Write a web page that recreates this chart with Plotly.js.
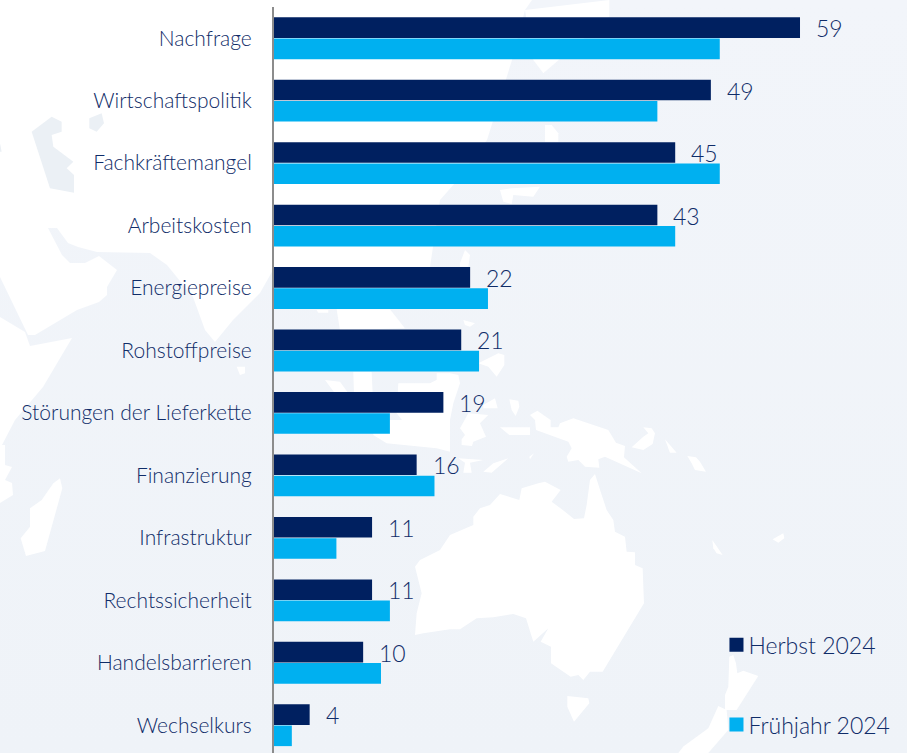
<!DOCTYPE html>
<html><head><meta charset="utf-8">
<script src="https://cdn.plot.ly/plotly-3.0.1.min.js"></script>
<style>
html,body{margin:0;padding:0;background:#fff;overflow:hidden}
#bg{position:absolute;left:0;top:0}
#chart{position:absolute;left:0;top:0;width:907px;height:753px}
</style></head><body>
<svg id="bg" width="907" height="753" xmlns="http://www.w3.org/2000/svg">
<defs><linearGradient id="o" x1="0" y1="0" x2="0" y2="1"><stop offset="0" stop-color="#f2f5fa"/><stop offset="1" stop-color="#eff3f8"/></linearGradient></defs>
<rect width="907" height="753" fill="#fff"/>
<polygon fill="url(#o)" points="48,228 57,228 68,243 78,247 97,252 150,253 167,265 193,297 205,330 215,342 233,320 260,293 273,270 430,267 440,200 455,183 487,140 512,60 525,10 532,0 907,0 907,753 0,753 0,503 13,495 12,483 5,480 12,467 5,465 5,445 2,445 15,420 43,387 72,338 30,346 25,332 0,317 0,277 28,335 35,335 77,310 99,302 107,295 107,287 117,270 99,256 85,263 70,263 62,255"/>
<g fill="#ebf0f5" transform="translate(0,100) scale(.3333)">
<polygon points="268,55 305,40 312,70 290,95 268,85"/>
<polygon points="95,95 155,50 185,65 185,95 155,105 160,140 220,185 200,205 222,225 222,278 150,265"/>
<polygon points="0,130 5,155 0,155"/>
</g>
<g fill="#fff" transform="translate(0,100) scale(.3333)">
<polygon points="710,800 735,800 735,820 720,825"/>
<polygon points="950,630 985,630 985,638 955,638"/>
<polygon points="1010,628 1170,628 1215,685 1020,690"/>
<polygon points="975,840 1020,845 1045,880 1005,880"/>
<polygon points="1060,815 1115,815 1118,880 1062,880"/>
<polygon points="1195,850 1290,850 1350,820 1350,990 1230,990 1190,940"/>
</g>
<g fill="#fff" transform="translate(0,420) scale(.3333)">
<polygon points="180,175 187,205 135,393 78,408 62,355 90,320 90,265 125,240 160,190"/>
<polygon points="1120,45 1160,70 1310,85 1350,95 1350,0 1120,0"/>
</g>
<g fill="#fff" transform="translate(450,0) scale(.3333)">
<polygon points="225,30 478,0 478,50 280,220 250,180"/>
<polygon points="285,375 305,375 325,400 325,425 285,425"/>
<polygon points="150,570 185,565 270,560 250,590 190,585 185,612 160,605"/>
<polygon points="30,790 45,750 60,765 55,800 30,800"/>
</g>
<g fill="#fff" transform="translate(450,320) scale(.3333)">
<polygon points="-30,690 0,645 70,615 70,590 90,565 120,555 150,522 208,540 215,505 265,490 285,485 332,510 305,545 345,575 372,597 402,595 410,555 420,480 435,462 452,515 470,570 490,600 495,635 525,650 530,695 555,697 555,735 578,745 582,850 458,1055 420,1055 400,1080 385,1065 362,1070 303,1030 303,980 272,965 295,925 250,965 228,895 190,882 130,892 80,895 30,928 0,928 -80,940 -105,945 -100,880 -85,820 -105,740 -90,720"/>
<polygon points="240,285 262,272 302,300 302,322 325,322 330,310 370,295 475,330 498,368 525,378 522,412 575,460 465,410 445,418 448,443 405,440 385,420 355,425 350,410 365,385 355,365 258,330 255,300"/>
<polygon points="545,382 580,350 595,340 580,322 605,325 615,340 608,372 580,390"/>
<polygon points="645,358 680,398 660,398"/>
<polygon points="712,408 738,412 750,425 768,455 735,450 725,430"/>
<polygon points="838,1010 850,1005 858,1030 862,1060 880,1052 925,1068 860,1170 825,1170 825,1125 835,1100"/>
<polygon points="805,1158 830,1170 835,1230 775,1299 685,1299 700,1280 775,1225"/>
<polygon points="352,1128 415,1135 418,1150 372,1205 352,1160"/>
<polygon points="787,660 818,705 800,700 790,685"/>
<polygon points="968,658 1000,640 1003,655 985,668"/>
<polygon points="178,238 205,242 208,260 197,288 185,270"/>
<polygon points="150,322 240,322 240,345 178,345"/>
<polygon points="30,325 55,280 115,285 90,310 108,350 70,365 66,378 35,375 35,358 45,345"/>
<polygon points="100,455 130,430 175,415 125,458"/>
<polygon points="238,410 252,400 240,418"/>
<polygon points="25,415 100,420 60,428 65,458 40,458 45,428"/>
<polygon points="100,255 135,235 143,265 100,265"/>
<polygon points="85,130 145,100 163,105 163,135 140,170 115,140"/>
<polygon points="-40,160 0,160 25,165 30,190 10,250 0,300 -40,320"/>
<polygon points="40,0 75,10 60,20 45,15"/>
</g>
</svg>
<div id="chart"></div>
<script>
const categories = ["Nachfrage","Wirtschaftspolitik","Fachkräftemangel","Arbeitskosten","Energiepreise","Rohstoffpreise","Störungen der Lieferkette","Finanzierung","Infrastruktur","Rechtssicherheit","Handelsbarrieren","Wechselkurs"];
const herbst2024 = [59,49,45,43,22,21,19,16,11,11,10,4];
const fruehjahr2024 = [50,43,50,45,24,23,13,18,7,13,12,2];
const seriesNames = ["Herbst 2024","Frühjahr 2024"];
const colors = ["#002060","#00b0f0"];
const textColor = "#0f2c68";
const fontFamily = "Lato, sans-serif";
const fontWeight = 300;

const traces = [herbst2024, fruehjahr2024].map((vals,i)=>({
  type:"bar", orientation:"h", name:seriesNames[i], legendgroup:seriesNames[i],
  y:categories, x:vals, marker:{color:colors[i]}, hoverinfo:"x+y"
}));

const annotations = herbst2024.map((v,i)=>({
  x:v, y:categories[i], xref:"x", yref:"y", text:String(v), showarrow:false,
  xanchor:"left", yanchor:"middle", xshift:14, yshift:10,
  font:{family:fontFamily,size:23,weight:fontWeight,color:textColor}
}));

const layout = {
  width:907, height:753,
  margin:{l:274,r:0,t:7,b:0,pad:0},
  paper_bgcolor:"rgba(0,0,0,0)", plot_bgcolor:"rgba(0,0,0,0)",
  barmode:"group", bargap:0.32, bargroupgap:0.03,
  font:{family:fontFamily,color:textColor},
  xaxis:{range:[0,71],visible:false,fixedrange:true},
  yaxis:{type:"category",categoryorder:"array",categoryarray:categories,range:[11.445,-0.5],
    showline:true,linecolor:"#8c8c8c",linewidth:2,showgrid:false,zeroline:false,ticks:"",
    ticklabelstandoff:16,tickfont:{family:fontFamily,size:21,weight:fontWeight,color:textColor},fixedrange:true},
  showlegend:true,
  legend:{x:0.699,xanchor:"left",y:0.174,yanchor:"top",bgcolor:"rgba(0,0,0,0)",borderwidth:0,
    tracegroupgap:47,font:{family:fontFamily,size:23,weight:fontWeight,color:textColor},traceorder:"grouped"},
  annotations
};
Plotly.newPlot("chart",traces,layout,{displayModeBar:false,staticPlot:true}).then(()=>{
  document.querySelectorAll(".legendtext").forEach(t=>t.setAttribute("x",32));
  document.querySelectorAll(".legendpoints path").forEach(p=>{
    const tr=p.getAttribute("transform")||"";
    p.setAttribute("transform",tr+" scale(1.17)");
  });
});
</script>
</body></html>
